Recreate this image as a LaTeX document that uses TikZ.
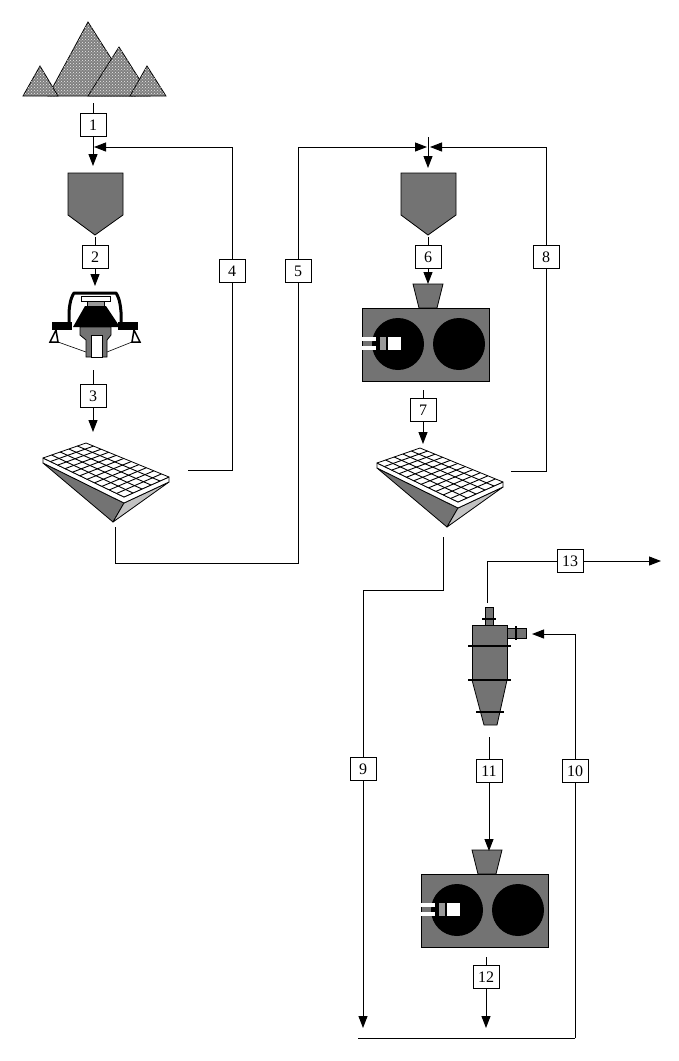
\documentclass[tikz,border=0pt]{standalone}
\usepackage{fontspec}
\setmainfont{Liberation Serif}
\usetikzlibrary{arrows.meta,patterns,calc}
\definecolor{eqgray}{gray}{0.45}
\definecolor{lgray}{gray}{0.6}
\definecolor{pgray}{gray}{0.5}
\begin{document}
\begin{tikzpicture}[x=1pt,y=-1pt,
  lbl/.style={draw,fill=white,line width=0.8pt,minimum width=26pt,minimum height=23pt,inner sep=0pt,font=\fontsize{16}{16}\selectfont},
  ln/.style={line width=1pt},
  arr/.style={line width=1pt,-{Triangle[length=12pt,width=9pt]}},
  pile/.style={draw,line width=0.8pt,fill=pgray,postaction={pattern=crosshatch dots,pattern color=white!85!gray}},
  eq/.style={draw,line width=0.8pt,fill=eqgray}]
\useasboundingbox (0,0) rectangle (679,1061);

% ---- stockpile
\path[pile] (88,22)--(48,96)--(135,96)--cycle;
\path[pile] (40,66)--(23,96)--(58,96)--cycle;
\path[pile] (119,47)--(88,96)--(150,96)--cycle;
\path[pile] (147,66)--(130,96)--(166,96)--cycle;

% ---- hoppers
\path[eq] (68,173)--(123,173)--(123,215)--(95,235)--(68,215)--cycle;
\path[eq] (401,173)--(456,173)--(456,215)--(428,235)--(401,215)--cycle;

% ---- crusher
\draw[line width=3pt,line join=round] (69,323)--(69,312) .. controls (70,300) and (72,296) .. (74,293)--(116,293) .. controls (118,296) and (120,300) .. (121,312)--(121,323);
\fill (52,322) rectangle (72,330);
\fill (118,322) rectangle (138,330);
\draw[line width=1.5pt] (56,330)--(50,342)--(58,342)--cycle;
\draw[line width=1.5pt] (134,330)--(140,342)--(132,342)--cycle;
\draw[line width=0.6pt] (58,342)--(86,352) (132,342)--(107,352);
\draw[fill=white,line width=1pt] (81,296) rectangle (110,301);
\draw[fill=lgray,line width=0.6pt] (87,301) rectangle (104,306);
\fill (85,306)--(106,306)--(120,327)--(73,327)--cycle;
\draw[fill=eqgray,line width=0.8pt] (80,327)--(111,327)--(111,335)--(107,340)--(107,357)--(86,357)--(86,340)--(80,335)--cycle;
\draw[fill=white,line width=0.6pt] (91,335) rectangle (102,357);

% ---- screens
\newcommand{\myscreen}[2]{%
\begin{scope}[shift={(#1,#2)}]
\draw[fill=eqgray,line width=0.8pt,line join=round] (377,468)--(458,508)--(447,527)--cycle;
\draw[fill=lgray!60,line width=0.8pt,line join=round] (458,508)--(503,487)--(447,527)--cycle;
\draw[fill=white,line width=0.8pt,line join=round] (377,463)--(458,502)--(503,482)--(503,487)--(458,508)--(377,468)--cycle;
\draw[fill=white,line width=0.8pt,line join=round] (377,463)--(420,448)--(503,482)--(458,502)--cycle;
\foreach \i in {1,...,4}{\draw[line width=0.9pt] ($(377,463)!\i/5!(420,448)$)--($(458,502)!\i/5!(503,482)$);}
\foreach \i in {1,...,10}{\draw[line width=0.9pt] ($(377,463)!\i/11!(458,502)$)--($(420,448)!\i/11!(503,482)$);}
\end{scope}}
\myscreen{-334}{-5}
\myscreen{0}{0}

% ---- mills
\newcommand{\mymill}[2]{%
\begin{scope}[shift={(#1,#2)}]
\draw[fill=eqgray,line width=0.8pt] (413,284)--(443,284)--(437,308)--(419,308)--cycle;
\draw[fill=eqgray,line width=0.8pt] (362,308) rectangle (489,381);
\fill (398,344) circle (26);
\fill (459,344) circle (26);
\fill[white] (362,337) rectangle (376,341);
\fill[white] (362,346) rectangle (376,350);
\fill[lgray] (380,337) rectangle (386,350);
\fill[white] (388,337) rectangle (401,350);
\end{scope}}
\mymill{0}{0}
\mymill{59}{566}

% ---- cyclone
\draw[fill=eqgray,line width=0.8pt] (472,625) rectangle (507,680);
\draw[fill=eqgray,line width=0.8pt] (472,680)--(507,680)--(497,725)--(484,725)--cycle;
\draw[fill=eqgray,line width=0.8pt] (485,607) rectangle (493,625);
\draw[fill=eqgray,line width=0.8pt] (507,628) rectangle (526,638);
\draw[line width=2pt] (482,619)--(496,619) (516,626)--(516,640)
  (468,646)--(511,646) (468,680)--(511,680) (476,712)--(504,712);

% ---- labels
\node[lbl] (b1) at (93,125) {1};
\node[lbl] (b2) at (95,257) {2};
\node[lbl] (b3) at (93,396) {3};
\node[lbl] (b4) at (232,271) {4};
\node[lbl] (b5) at (298,271) {5};
\node[lbl] (b6) at (428,257) {6};
\node[lbl] (b7) at (423,410) {7};
\node[lbl] (b8) at (546,257) {8};
\node[lbl] (b9) at (363,769) {9};
\node[lbl] (b10) at (575,771) {10};
\node[lbl] (b11) at (489,771) {11};
\node[lbl] (b12) at (486,977) {12};
\node[lbl] (b13) at (570,561) {13};

% ---- connectors
\coordinate (s1) at (93,103); \coordinate (t1) at (93,166);
\draw[ln] (s1)--(b1); \draw[arr] (b1)--(t1);
\coordinate (s2) at (95,237); \coordinate (t2) at (95,286);
\draw[ln] (s2)--(b2); \draw[arr] (b2)--(t2);
\coordinate (s3) at (93,370); \coordinate (t3) at (93,432);
\draw[ln] (s3)--(b3); \draw[arr] (b3)--(t3);
\coordinate (s4) at (188,470); \coordinate (c4) at (232,470); \coordinate (d4) at (232,147); \coordinate (t4) at (94,147);
\draw[ln] (s4)--(c4)--(b4); \draw[arr] (b4)--(d4)--(t4);
\coordinate (s5) at (115,527); \coordinate (c5) at (115,563); \coordinate (d5) at (298,563); \coordinate (e5) at (298,147); \coordinate (t5) at (427,147);
\draw[ln] (s5)--(c5)--(d5)--(b5); \draw[arr] (b5)--(e5)--(t5);
\coordinate (s0) at (428,137); \coordinate (t0) at (428,168);
\draw[arr] (s0)--(t0);
\coordinate (s6) at (428,237); \coordinate (t6) at (428,284);
\draw[ln] (s6)--(b6); \draw[arr] (b6)--(t6);
\coordinate (s7) at (423,390); \coordinate (t7) at (423,444);
\draw[ln] (s7)--(b7); \draw[arr] (b7)--(t7);
\coordinate (s8) at (511,471); \coordinate (c8) at (546,471); \coordinate (d8) at (546,147); \coordinate (t8) at (430,147);
\draw[ln] (s8)--(c8)--(b8); \draw[arr] (b8)--(d8)--(t8);
\coordinate (s9) at (443,537); \coordinate (c9) at (443,590); \coordinate (d9) at (363,590); \coordinate (t9) at (363,1028);
\draw[ln] (s9)--(c9)--(d9)--(b9); \draw[arr] (b9)--(t9);
\coordinate (s10) at (575,1038); \coordinate (c10) at (575,634); \coordinate (t10) at (532,634);
\draw[ln] (s10)--(b10); \draw[arr] (b10)--(c10)--(t10);
\coordinate (s11) at (489,737); \coordinate (t11) at (489,851);
\draw[ln] (s11)--(b11); \draw[arr] (b11)--(t11);
\coordinate (s12) at (486,957); \coordinate (t12) at (486,1028);
\draw[ln] (s12)--(b12); \draw[arr] (b12)--(t12);
\coordinate (s13) at (487,603); \coordinate (c13) at (487,561); \coordinate (t13) at (661,561);
\draw[ln] (s13)--(c13)--(b13); \draw[arr] (b13)--(t13);
\coordinate (bl) at (358,1038); \coordinate (br) at (575,1038);
\draw[ln] (bl)--(br);
\end{tikzpicture}
\end{document}
